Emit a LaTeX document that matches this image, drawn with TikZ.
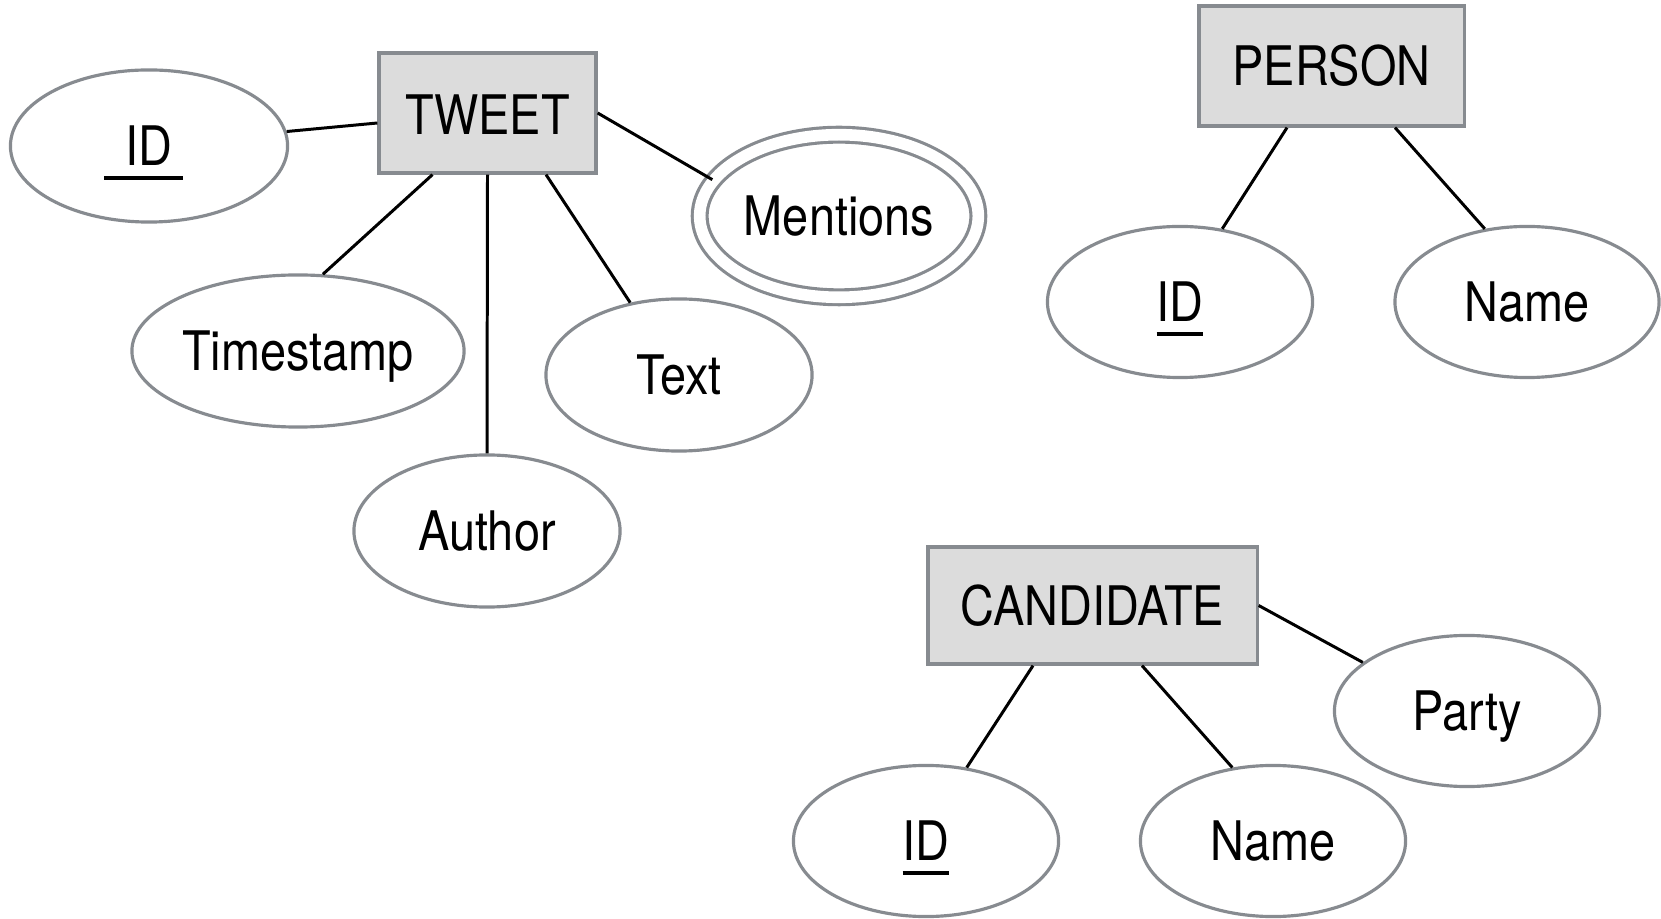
\documentclass[tikz,border=0pt]{standalone}
\usepackage{fontspec}
\setmainfont{TeX Gyre Heros}[FakeStretch=0.86]
\usetikzlibrary{shapes.geometric,calc}
\definecolor{erborder}{HTML}{878B90}
\definecolor{erfill}{HTML}{DCDCDC}
\newcommand\keyattr[1]{\setbox0\hbox{#1}\leavevmode\rlap{\raisebox{-4pt}{\rule{\wd0}{0.9pt}}}\box0}
\begin{document}
\begin{tikzpicture}[x=0.01cm,y=-0.01cm,
  every node/.style={font=\fontsize{15.5pt}{18pt}\selectfont,text height=11.1pt,text depth=0pt},
  entity/.style={rectangle,draw=erborder,fill=erfill,line width=0.9pt,inner sep=0pt},
  attr/.style={ellipse,draw=erborder,line width=0.9pt,inner sep=0pt,minimum width=2.66cm,minimum height=1.52cm},
  link/.style={line width=0.85pt,black}]
\useasboundingbox (0,0) rectangle (1661,919);
% TWEET
\node[entity,minimum width=2.17cm,minimum height=1.2cm] (tweet) at (487.5,113) {\raisebox{-0.6pt}{TWEET}};
\node[attr,minimum width=2.77cm] (tid) at (149,146) {\keyattr{\kern6pt ID\kern3pt}\kern3pt};
\node[attr,minimum width=3.32cm] (ts) at (298,351) {Timestamp};
\node[attr] (author) at (487,531) {Author};
\node[attr] (text) at (679,375) {Text};
\node[attr,double=white,double distance=3.3pt,minimum width=2.785cm,minimum height=1.625cm] (ment) at (839,216) {Mentions};
% PERSON
\node[entity,minimum width=2.65cm,minimum height=1.2cm] (person) at (1331.5,66) {PERSON};
\node[attr,minimum width=2.65cm,minimum height=1.51cm] (pid) at (1180,302) {\keyattr{ID}};
\node[attr,minimum width=2.64cm,minimum height=1.51cm] (pname) at (1527,302) {Name};
% CANDIDATE
\node[entity,minimum width=3.29cm,minimum height=1.17cm] (cand) at (1092.5,605.5) {CANDIDATE};
\node[attr,minimum width=2.65cm,minimum height=1.51cm] (cid) at (926,841) {\keyattr{ID}};
\node[attr,minimum width=2.65cm,minimum height=1.51cm] (cname) at (1273,841) {Name};
\node[attr,minimum width=2.65cm,minimum height=1.51cm] (party) at (1467,711) {Party};
% connectors
\draw[link] ($(tweet.west)+(0,10)$) -- (tid.6);
\draw[link] ($(tweet.south)+(-55,0)$) -- (ts.72);
\draw[link] (tweet.south) -- (author.north);
\draw[link] ($(tweet.south)+(58.5,0)$) -- (text.124);
\draw[link] (tweet.east) -- (ment.164);
\draw[link] ($(person.south)+(-44.5,0)$) -- (pid.60);
\draw[link] ($(person.south)+(63.5,0)$) -- (pname.120);
\draw[link] ($(cand.south)+(-59.5,0)$) -- (cid.61);
\draw[link] ($(cand.south)+(49.5,0)$) -- (cname.119);
\draw[link] (cand.east) -- (party.155);
\end{tikzpicture}
\end{document}
